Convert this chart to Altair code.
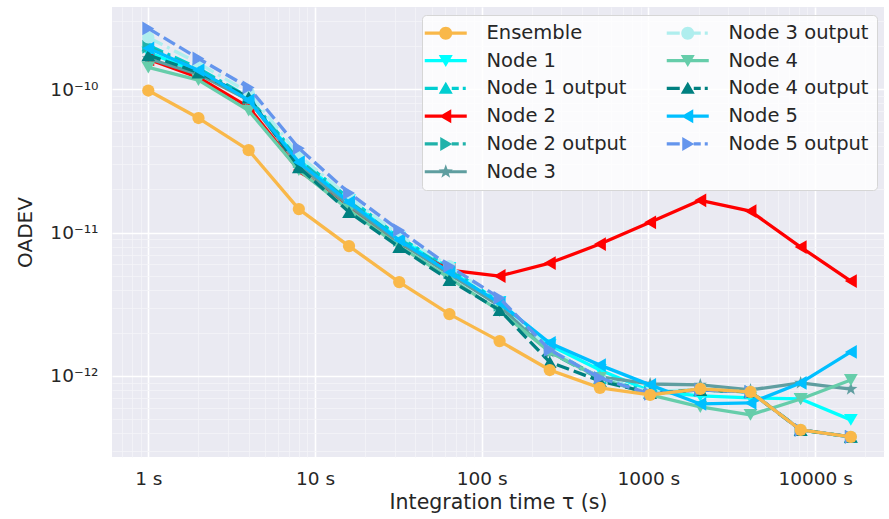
import altair as alt
import pandas as pd

# ---------------- data ----------------
tau = [1, 2, 4, 8, 16, 32, 64, 128, 256, 512, 1024, 2048, 4096, 8192, 16384]

ensemble = [9.8e-11, 6.3e-11, 3.76e-11, 1.46e-11, 8.05e-12, 4.52e-12, 2.70e-12, 1.75e-12,
            1.10e-12, 8.25e-13, 7.37e-13, 8.12e-13, 7.74e-13, 4.20e-13, 3.76e-13]
node1 = [1.81e-10, 1.31e-10, 8.4e-11, 3.2e-11, 1.68e-11, 9.2e-12, 5.66e-12, 3.28e-12,
         1.64e-12, 1.10e-12, 7.86e-13, 7.25e-13, 7.03e-13, 6.91e-13, 4.94e-13]
node1_out = [2.03e-10, 1.40e-10, 8.8e-11, 3.3e-11, 1.74e-11, 9.3e-12, 5.66e-12, 3.23e-12,
             1.52e-12, 9.68e-13, 7.74e-13, 7.99e-13, 7.74e-13, 4.20e-13, 3.76e-13]
node2 = [1.62e-10, 1.21e-10, 7.5e-11, 2.73e-11, 1.48e-11, 8.45e-12, 5.48e-12, 4.98e-12,
         6.13e-12, 8.32e-12, 1.18e-11, 1.68e-11, 1.41e-11, 7.93e-12, 4.59e-12]
node2_out = [1.98e-10, 1.36e-10, 8.7e-11, 3.15e-11, 1.66e-11, 8.87e-12, 5.31e-12, 3.13e-12,
             1.47e-12, 9.53e-13, 7.61e-13, 7.99e-13, 7.74e-13, 4.20e-13, 3.76e-13]
node3 = [1.64e-10, 1.27e-10, 8.4e-11, 2.95e-11, 1.55e-11, 8.59e-12, 5.14e-12, 3.08e-12,
         1.47e-12, 9.84e-13, 8.79e-13, 8.66e-13, 7.99e-13, 8.94e-13, 8.10e-13]
node3_out = [2.30e-10, 1.52e-10, 9.5e-11, 3.47e-11, 1.77e-11, 9.61e-12, 5.84e-12, 3.33e-12,
             1.54e-12, 9.68e-13, 7.74e-13, 8.12e-13, 7.74e-13, 4.20e-13, 3.76e-13]
node4 = [1.42e-10, 1.16e-10, 7.1e-11, 2.73e-11, 1.44e-11, 8.05e-12, 4.82e-12, 2.84e-12,
         1.47e-12, 9.68e-13, 7.37e-13, 6.08e-13, 5.35e-13, 6.91e-13, 9.38e-13]
node4_out = [1.73e-10, 1.31e-10, 8.8e-11, 2.86e-11, 1.39e-11, 7.93e-12, 4.67e-12, 2.88e-12,
             1.25e-12, 9.23e-13, 7.61e-13, 7.99e-13, 7.74e-13, 4.20e-13, 3.76e-13]
node5 = [1.93e-10, 1.36e-10, 8.4e-11, 3.10e-11, 1.63e-11, 8.87e-12, 5.31e-12, 3.23e-12,
         1.70e-12, 1.19e-12, 8.66e-13, 6.38e-13, 6.48e-13, 8.94e-13, 1.47e-12]
node5_out = [2.66e-10, 1.64e-10, 1.03e-10, 3.88e-11, 1.89e-11, 1.04e-11, 5.84e-12, 3.50e-12,
             1.52e-12, 9.68e-13, 7.49e-13, 7.99e-13, 7.74e-13, 4.20e-13, 3.76e-13]

names = ["Ensemble", "Node 1", "Node 1 output", "Node 2", "Node 2 output", "Node 3",
         "Node 3 output", "Node 4", "Node 4 output", "Node 5", "Node 5 output"]
series_values = [ensemble, node1, node1_out, node2, node2_out, node3, node3_out,
                 node4, node4_out, node5, node5_out]

# ---------------- styles ----------------
colors = ["#F9B849", "#00FFFF", "#00CED1", "#FF0000", "#20B2AA", "#5F9EA0",
          "#AFEEEE", "#66CDAA", "#008080", "#00BFFF", "#6495ED"]
DASHDOT = [16, 5, 3, 5]
DASHED = [13, 5]
dashes = [None, None, DASHDOT, None, DASHDOT, None, DASHDOT, None, DASHED, None, DASHED]

STAR = ("M0,-1L0.235,-0.324L0.951,-0.309L0.38,0.124L0.588,0.809L0,0.4L-0.588,0.809"
        "L-0.38,0.124L-0.951,-0.309L-0.235,-0.324Z")
markers = ["circle", "triangle-down", "triangle-up", "triangle-left", "triangle-right", STAR,
           "circle", "triangle-down", "triangle-up", "triangle-left", "triangle-right"]
marker_sizes = [150, 190, 190, 190, 190, 190, 150, 190, 190, 190, 190]

# legend glyphs (line + marker), path units = pixels
L_SOLID = "M-21,-1.6L21,-1.6L21,1.6L-21,1.6Z"
L_DASH = ("M-21,-1.6L-8,-1.6L-8,1.6L-21,1.6Z M6,-1.6L13,-1.6L13,1.6L6,1.6Z "
          "M17,-1.6L20,-1.6L20,1.6L17,1.6Z")
G_CIRCLE = "M-6.5,0A6.5,6.5,0,1,1,6.5,0A6.5,6.5,0,1,1,-6.5,0Z"
G_DOWN = "M-7,-5.5L7,-5.5L0,6.5Z"
G_UP = "M0,-6.5L7,5.5L-7,5.5Z"
G_LEFT = "M-6.5,0L5.5,-7L5.5,7Z"
G_RIGHT = "M6.5,0L-5.5,7L-5.5,-7Z"
G_STAR = ("M0,-7.5L1.76,-2.43L7.13,-2.32L2.85,0.93L4.41,6.07L0,3L-4.41,6.07"
          "L-2.85,0.93L-7.13,-2.32L-1.76,-2.43Z")
glyph_marker = [G_CIRCLE, G_DOWN, G_UP, G_LEFT, G_RIGHT, G_STAR,
                G_CIRCLE, G_DOWN, G_UP, G_LEFT, G_RIGHT]
glyphs = []
for d, m in zip(dashes, glyph_marker):
    glyphs.append((L_SOLID if d is None else L_DASH) + " " + m)

rows = []
for n, vals in zip(names, series_values):
    for t, v in zip(tau, vals):
        rows.append({"tau": t, "oadev": v, "series": n})
df = pd.DataFrame(rows)

# ---------------- axes ----------------
FONT = "DejaVu Sans"
TXT = "#262626"
x_ticks = [m * 10 ** e for e in range(-1, 5) for m in range(1, 10)]
x_ticks = [v for v in x_ticks if 0.61 <= v <= 25000]
y_ticks = [m * 10.0 ** e for e in (-13, -12, -11, -10) for m in range(1, 10)]
y_ticks = [v for v in y_ticks if 2.75e-13 <= v <= 3.7e-10]

x_major_test = "indexof([1,10,100,1000,10000], datum.value) >= 0"
y_major_test = "abs(datum.value / pow(10, round(log(datum.value) / LN10)) - 1) < 0.01"

x_axis = alt.Axis(
    values=x_ticks,
    labelExpr=f"({x_major_test}) ? datum.value + ' s' : ''",
    title="Integration time τ (s)",
    grid=True,
    gridColor={"condition": {"test": x_major_test, "value": "#FFFFFF"}, "value": "#F4F4F8"},
    gridWidth={"condition": {"test": x_major_test, "value": 1.6}, "value": 0.8},
    ticks=False, tickSize=0, domain=False,
    labelFont=FONT, labelFontSize=18.5, labelColor=TXT, labelPadding=12,
    labelOverlap=False, labelFlush=False,
    titleFont=FONT, titleFontSize=20.5, titleColor=TXT, titleFontWeight="normal",
    titlePadding=5,
)
y_axis = alt.Axis(
    values=y_ticks,
    labelExpr=(f"({y_major_test}) ? (round(log(datum.value)/LN10) == -10 ? '10⁻¹⁰' : "
               "round(log(datum.value)/LN10) == -11 ? '10⁻¹¹' : "
               "round(log(datum.value)/LN10) == -12 ? '10⁻¹²' : '') : ''"),
    title="OADEV",
    grid=True,
    gridColor={"condition": {"test": y_major_test, "value": "#FFFFFF"}, "value": "#F4F4F8"},
    gridWidth={"condition": {"test": y_major_test, "value": 1.6}, "value": 0.8},
    ticks=False, tickSize=0, domain=False,
    labelFont=FONT, labelFontSize=18.5, labelColor=TXT, labelPadding=14,
    labelOverlap=False, labelFlush=False,
    titleFont=FONT, titleFontSize=20, titleColor=TXT, titleFontWeight="normal",
    titlePadding=14,
)

x_enc = alt.X("tau:Q", scale=alt.Scale(type="log", domain=[0.6057, 25900], nice=False), axis=x_axis)
y_enc = alt.Y("oadev:Q", scale=alt.Scale(type="log", domain=[2.72e-13, 3.75e-10], nice=False), axis=y_axis)

legend = alt.Legend(
    title=None, orient="none", legendX=310, legendY=8, columns=2,
    symbolSize=4, symbolOffset=6, labelOffset=31, symbolStrokeWidth=0, symbolOpacity=1,
    labelFont=FONT, labelFontSize=19.5, labelColor=TXT, labelLimit=400,
    fillColor="rgba(255,255,255,0.8)", strokeColor="#D6D6D6", cornerRadius=4,
    padding=8, rowPadding=6.8, columnPadding=39,
)

layers = []
draw_order = names[1:] + ["Ensemble"]
for n in draw_order:
    i = names.index(n)
    line_kwargs = {}
    if dashes[i] is not None:
        line_kwargs["strokeDash"] = alt.value(dashes[i])
    base = alt.Chart().transform_filter(alt.datum.series == n)
    layers.append(
        base.mark_line(strokeWidth=3.3, strokeJoin="round").encode(
            x=x_enc, y=y_enc, color=alt.value(colors[i]), **line_kwargs,
        )
    )
    layers.append(
        base.mark_point(filled=True, opacity=1, strokeWidth=0).encode(
            x=x_enc, y=y_enc, color=alt.value(colors[i]),
            shape=alt.value(markers[i]), size=alt.value(marker_sizes[i]),
        )
    )

legend_layer = alt.Chart().mark_point(filled=True, opacity=0).encode(
    x=x_enc, y=y_enc,
    color=alt.Color("series:N", scale=alt.Scale(domain=names, range=colors), legend=legend),
    shape=alt.Shape("series:N", scale=alt.Scale(domain=names, range=glyphs), legend=legend),
)
layers.append(legend_layer)

chart = alt.layer(*layers, data=df).properties(
    width=772, height=450,
    autosize=alt.AutoSizeParams(type="none"),
    padding={"left": 112, "top": 7, "right": 5, "bottom": 62},
    background="white",
).configure_view(fill="#EAEAF2", stroke=None)

chart.save("out.html", embed_options={"renderer": "svg", "actions": False})
